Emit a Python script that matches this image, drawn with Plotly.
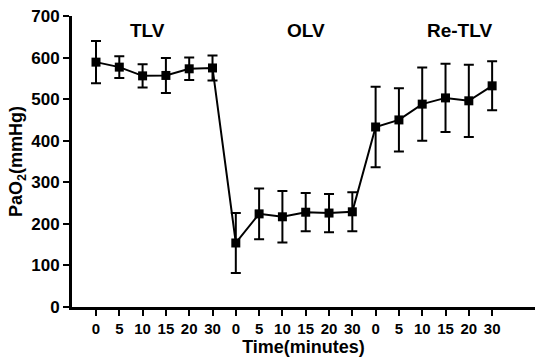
import plotly.graph_objects as go

tick_labels = ["0", "5", "10", "15", "20", "30"] * 3
phases = ["TLV", "OLV", "Re-TLV"]
pao2_mean = [589, 577, 556, 557, 573, 575,
             154, 224, 217, 228, 226, 229,
             433, 450, 488, 503, 496, 532]
pao2_sd = [51, 26, 28, 42, 27, 30,
           72, 61, 62, 46, 46, 47,
           97, 76, 88, 82, 87, 59]
y_ticks = [0, 100, 200, 300, 400, 500, 600, 700]

x_pos = list(range(len(pao2_mean)))
font_family = "Arial, Liberation Sans, sans-serif"

fig = go.Figure()
fig.add_trace(go.Scatter(
    x=x_pos, y=pao2_mean,
    mode="lines+markers",
    line=dict(color="black", width=2),
    marker=dict(symbol="square", size=9, color="black"),
    error_y=dict(type="data", array=pao2_sd, visible=True,
                 color="black", thickness=2, width=5),
    showlegend=False,
))

phase_centers = [2.2, 9.0, 15.6]
for name, xc in zip(phases, phase_centers):
    fig.add_annotation(x=xc, y=664, xref="x", yref="y", text="<b>%s</b>" % name,
                       showarrow=False, font=dict(family=font_family, size=19, color="black"))

fig.update_layout(
    width=538, height=361,
    margin=dict(l=72, r=3, t=16, b=54),
    plot_bgcolor="white", paper_bgcolor="white",
    font=dict(family=font_family, color="black"),
    xaxis=dict(
        range=[-1.03, 18.84],
        tickmode="array", tickvals=x_pos,
        ticktext=["<b>%s</b>" % t for t in tick_labels],
        tickfont=dict(size=15, family=font_family, color="black"),
        ticks="outside", ticklen=6, tickwidth=2, tickcolor="black",
        showline=True, linecolor="black", linewidth=3,
        showgrid=False, zeroline=False,
        title=dict(text="<b>Time(minutes)</b>", font=dict(size=18, family=font_family, color="black"), standoff=2),
    ),
    yaxis=dict(
        range=[0, 700],
        tickmode="array", tickvals=y_ticks,
        ticktext=["<b>%d</b>" % v for v in y_ticks],
        tickfont=dict(size=17, family=font_family, color="black"),
        ticks="outside", ticklen=6, tickwidth=2, tickcolor="black",
        showline=True, linecolor="black", linewidth=3,
        showgrid=False, zeroline=False,
        title=dict(text="<b>PaO<sub>2</sub>(mmHg)</b>", font=dict(size=18, family=font_family, color="black"), standoff=4),
    ),
)

fig.write_html("out.html", config={"displayModeBar": False},
               post_script="document.body.style.margin='0px';")
